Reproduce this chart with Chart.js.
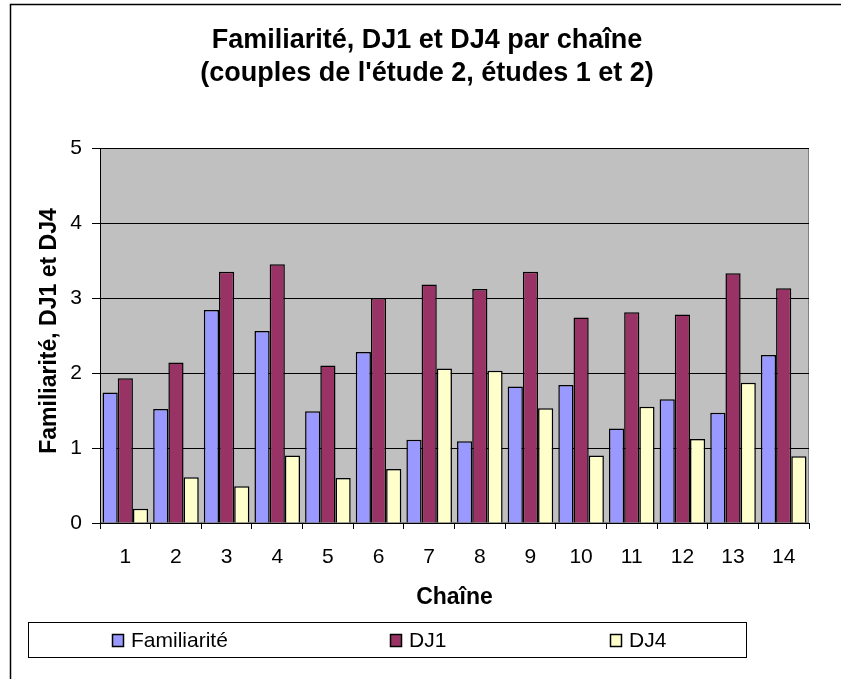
<!DOCTYPE html>
<html>
<head>
<meta charset="utf-8">
<script src="https://cdn.jsdelivr.net/npm/chart.js@4/dist/chart.umd.min.js"></script>
<style>
  html, body { margin: 0; padding: 0; background: #fff; }
  #wrap { width: 841px; height: 679px; position: relative; }
</style>
</head>
<body>
<div id="wrap"><canvas id="chart" width="841" height="679"></canvas></div>
<script>
// Données
const chaines = ['1', '2', '3', '4', '5', '6', '7', '8', '9', '10', '11', '12', '13', '14'];
const familiarite = [1.74, 1.52, 2.84, 2.56, 1.49, 2.28, 1.11, 1.09, 1.82, 1.84, 1.26, 1.65, 1.47, 2.24];
const dj1 = [1.93, 2.14, 3.35, 3.45, 2.10, 3.00, 3.18, 3.12, 3.35, 2.74, 2.81, 2.78, 3.33, 3.13];
const dj4 = [0.19, 0.61, 0.49, 0.90, 0.60, 0.72, 2.06, 2.03, 1.53, 0.90, 1.55, 1.12, 1.87, 0.89];
const yTicks = [0, 1, 2, 3, 4, 5];

const FONT = "'Liberation Sans', Arial, sans-serif";

// Fond gris de la zone de tracé + cadre du graphique
const plotBackground = {
    id: 'plotBackground',
    beforeDraw(chart) {
        const { ctx, chartArea: a } = chart;
        ctx.save();
        ctx.fillStyle = '#c0c0c0';
        ctx.fillRect(a.left, a.top, a.right - a.left, a.bottom - a.top);
        ctx.strokeStyle = '#808080';
        ctx.lineWidth = 1;
        ctx.strokeRect(a.left + 0.5, a.top + 0.5, a.right - a.left - 1, a.bottom - a.top - 1);
        // cadre extérieur (haut et gauche visibles)
        ctx.strokeStyle = '#000';
        ctx.lineWidth = 1.5;
        ctx.beginPath();
        ctx.moveTo(10.5, 679);
        ctx.lineTo(10.5, 4.5);
        ctx.lineTo(841, 4.5);
        ctx.stroke();
        ctx.restore();
    }
};

// Titre de l'axe Y et légende encadrée, placés comme dans l'original
const extras = {
    id: 'extras',
    afterDraw(chart) {
        const { ctx } = chart;
        ctx.save();
        ctx.fillStyle = '#000';
        ctx.font = 'bold 23px ' + FONT;
        ctx.textAlign = 'center';
        ctx.textBaseline = 'middle';
        ctx.translate(50, 331);
        ctx.rotate(-Math.PI / 2);
        ctx.fillText('Familiarité, DJ1 et DJ4', 0, 0);
        ctx.restore();

        ctx.save();
        ctx.strokeStyle = '#000';
        ctx.lineWidth = 1;
        ctx.strokeRect(28.5, 622.5, 718, 35);
        const xs = [112, 390, 610];
        ctx.font = '21px ' + FONT;
        ctx.textBaseline = 'middle';
        ctx.textAlign = 'left';
        chart.data.datasets.forEach((ds, i) => {
            ctx.fillStyle = ds.backgroundColor;
            ctx.fillRect(xs[i], 634, 12, 13);
            ctx.strokeStyle = '#000';
            ctx.lineWidth = 1.5;
            ctx.strokeRect(xs[i] + 0.5, 634.5, 11, 12);
            ctx.fillStyle = '#000';
            ctx.fillText(ds.label, xs[i] + 19, 641);
        });
        ctx.restore();
    }
};

const ctx = document.getElementById('chart').getContext('2d');
const chart = new Chart(ctx, {
    type: 'bar',
    data: {
        labels: chaines,
        datasets: [
            { label: 'Familiarité', data: familiarite, backgroundColor: '#9999ff' },
            { label: 'DJ1', data: dj1, backgroundColor: '#993366' },
            { label: 'DJ4', data: dj4, backgroundColor: '#ffffcc' },
        ].map(d => Object.assign(d, {
            borderColor: '#000',
            borderWidth: 1.5,
            categoryPercentage: 0.9,
            barPercentage: 1.0,
        })),
    },
    options: {
        responsive: false,
        animation: false,
        layout: { padding: { left: 45, right: 32, top: 10, bottom: 56 } },
        plugins: {
            legend: { display: false },
            tooltip: { enabled: false },
            title: {
                display: true,
                text: ['Familiarité, DJ1 et DJ4 par chaîne', "(couples de l'étude 2, études 1 et 2)"],
                color: '#000',
                font: { family: FONT, size: 27, weight: 'bold', lineHeight: 1.2 },
                padding: { top: 14.8, bottom: 58.4 },
            },
        },
        scales: {
            x: {
                afterFit(scale) { scale.height = 100; },
                grid: { display: true, drawOnChartArea: false, drawTicks: true, tickLength: 6, color: '#000' },
                border: { display: true, color: '#000', width: 1 },
                ticks: { color: '#000', font: { family: FONT, size: 21 }, padding: 16, maxRotation: 0 },
                title: {
                    display: true,
                    text: 'Chaîne',
                    color: '#000',
                    font: { family: FONT, size: 23, weight: 'bold', lineHeight: 1.2 },
                    padding: { top: 0, bottom: 12 },
                },
            },
            y: {
                min: 0,
                max: 5,
                afterFit(scale) { scale.width = 55; },
                afterBuildTicks(scale) { scale.ticks = yTicks.map(v => ({ value: v })); },
                grid: { color: '#000', lineWidth: 1, tickLength: 8 },
                border: { display: true, color: '#000', width: 1 },
                ticks: { color: '#000', font: { family: FONT, size: 21 }, padding: 10 },
            },
        },
    },
    plugins: [plotBackground, extras],
});
</script>
</body>
</html>
